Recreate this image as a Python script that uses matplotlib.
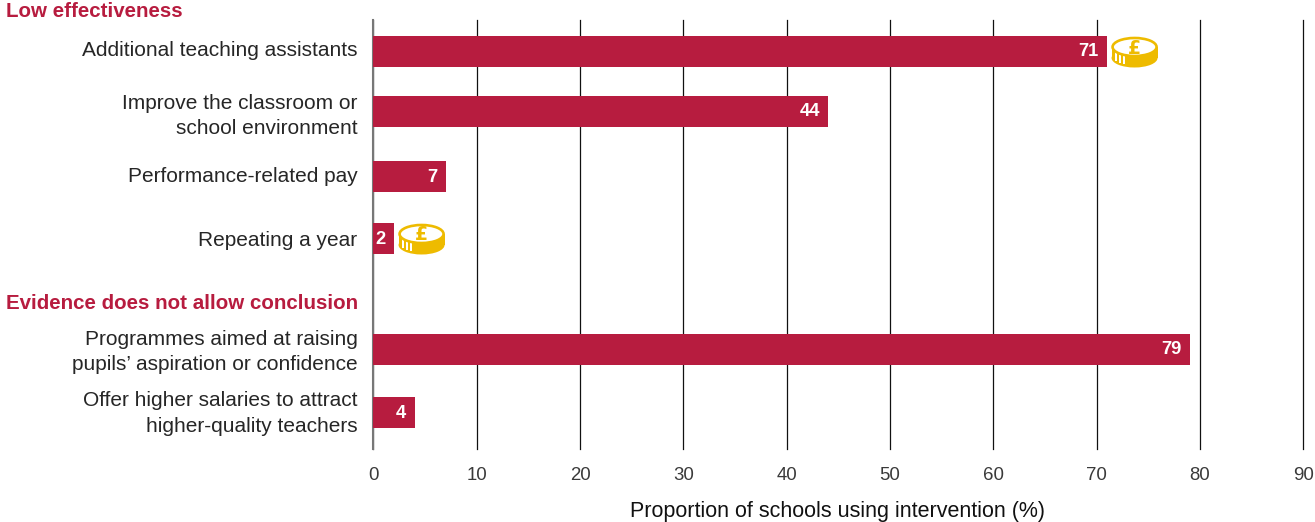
import numpy as np
import matplotlib
matplotlib.use('Agg')
import matplotlib.pyplot as plt
from matplotlib.patches import Ellipse, Polygon, Rectangle
from matplotlib.transforms import IdentityTransform

labels = ['Additional teaching assistants',
          'Improve the classroom or\nschool environment',
          'Performance-related pay',
          'Repeating a year',
          'Programmes aimed at raising\npupils\u2019 aspiration or confidence',
          'Offer higher salaries to attract\nhigher-quality teachers']
values = [71, 44, 7, 2, 79, 4]
has_coin = [True, False, False, True, False, False]
groups = ['Low effectiveness', 'Evidence does not allow conclusion']
xticks = [0, 10, 20, 30, 40, 50, 60, 70, 80, 90]
xlabel = 'Proportion of schools using intervention (%)'

# row centres, measured downward from the top of the plot area
rows = [31, 91, 156, 218, 329, 392]
label_rows = [31, 96, 157, 221, 332, 393.5]
group_rows = [-10, 282]

RED = '#b71c3f'
GOLD = '#eebb00'
W, H = 1315, 522

plt.rcParams['font.family'] = ['Liberation Sans', 'DejaVu Sans']

fig = plt.figure(figsize=(W / 100, H / 100), dpi=100)
ax = fig.add_axes([373.4 / W, 1 - 449 / H, 930 / W, 429 / H])
ax.set_xlim(0, 90)
ax.set_ylim(429, 0)
for s in ax.spines.values():
    s.set_visible(False)
ax.set_yticks([])
ax.set_xticks(xticks)
ax.tick_params(axis='x', length=0, pad=13, labelsize=13.4, labelcolor='#3a3a3a')
ax.set_axisbelow(True)
ax.grid(axis='x', color='#111111', lw=0.9, clip_on=False)
ax.axvline(0, color='#777777', lw=1.5, zorder=1.5, clip_on=False)

ax.barh(rows, values, height=31, color=RED, zorder=2)


def draw_coin(cx, cy):
    # coin drawn in pixel space so it stays round whatever the data scale
    tr = IdentityTransform()
    a, b = 23, 9.5
    top = cy + 5
    low = cy - 6

    def add(p):
        p.set_transform(tr)
        fig.add_artist(p)

    add(Polygon([(cx - a, top), (cx + a, top), (cx + a, low), (cx - a, low)],
                closed=True, fc=GOLD, ec='none', zorder=4))
    add(Ellipse((cx, low), 2 * a, 2 * b, fc=GOLD, ec='none', zorder=4))
    # white ridges down the left side of the rim
    for dx in [-20, -16, -12]:
        arc = b * np.sqrt(1 - ((dx + 1.2) / a) ** 2)
        add(Rectangle((cx + dx, low - arc + 2), 2.4, top - low - 2, fc='white', ec='none', zorder=4.5))
    add(Ellipse((cx, top), 2 * a - 2, 2 * b - 1, fc='white', ec=GOLD, lw=1.9, zorder=5))
    fig.text(cx, top - 1, '\u00a3', color=GOLD, fontsize=13.5, fontweight='bold', ha='center',
             va='center', family='DejaVu Sans', transform=tr, zorder=6)


fig.canvas.draw()
for lab, val, y, ly, coin in zip(labels, values, rows, label_rows, has_coin):
    ax.text(-1.55, ly, lab, ha='right', va='center', fontsize=15, color='#262626',
            linespacing=1.46, clip_on=False)
    ax.text(val - 0.8, y + 1, str(val), ha='right', va='center', fontsize=13.2,
            fontweight='bold', color='white', zorder=3)
    if coin:
        px, py = ax.transData.transform((val, y))
        draw_coin(px + 27.5, py - 1)

for g, y in zip(groups, group_rows):
    ax.text(-35.6, y + 1.5, g, ha='left', va='center', fontsize=14.75, fontweight='bold',
            color=RED, clip_on=False)

fig.text(838 / W, 1 - 512 / H, xlabel, ha='center', va='center', fontsize=15.5, color='#111111')

fig.savefig('out.png', dpi=100)
